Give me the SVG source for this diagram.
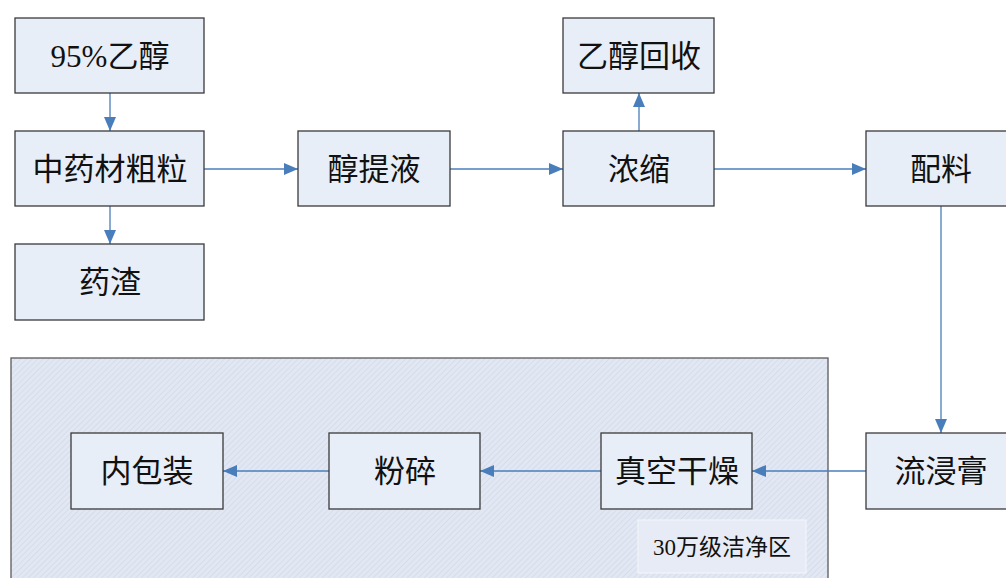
<svg xmlns="http://www.w3.org/2000/svg" width="1006" height="578" viewBox="0 0 1006 578">
<style>
.node rect{fill:#e8eef8;stroke:#3a3a3a;stroke-width:1.3}
.node text{font-family:"Liberation Serif","Noto Sans CJK SC",serif;font-size:31px;fill:#111;text-anchor:middle;dominant-baseline:central}
.conn line{stroke:#4a7ebb;stroke-width:1.3;marker-end:url(#ah)}
.zone-label{font-family:"Liberation Serif","Noto Sans CJK SC",serif;font-size:23px;fill:#111;text-anchor:middle;dominant-baseline:central}
</style>
<defs>
<marker id="ah" viewBox="0 0 14 12" refX="14" refY="6" markerWidth="14" markerHeight="12" markerUnits="userSpaceOnUse" orient="auto">
<path d="M0,0 L14,6 L0,12 Z" fill="#4a7ebb"/>
</marker>
<pattern id="hatch" width="4" height="4" patternUnits="userSpaceOnUse" patternTransform="rotate(45)">
<rect width="4" height="4" fill="#e2e8f3"/>
<line x1="0" y1="0" x2="0" y2="4" stroke="#d2d9e7" stroke-width="1.5"/>
</pattern>
</defs>
<rect width="1006" height="578" fill="#fff"/>
<g id="zone">
<rect x="11" y="358" width="817" height="230" fill="url(#hatch)" stroke="#5a5a5a" stroke-width="1.3"/>
<rect x="638" y="520" width="168" height="53" fill="#e6ebf5" stroke="#f4f6fa" stroke-width="1"/>
<text class="zone-label" x="722" y="547">30万级洁净区</text>
</g>
<g id="connectors" class="conn">
<line x1="110" y1="93" x2="110" y2="131"/>
<line x1="110" y1="206" x2="110" y2="244"/>
<line x1="204" y1="169" x2="298" y2="169"/>
<line x1="450" y1="169" x2="563" y2="169"/>
<line x1="639" y1="131" x2="639" y2="93"/>
<line x1="714" y1="169" x2="866" y2="169"/>
<line x1="941" y1="206" x2="941" y2="433"/>
<line x1="866" y1="471" x2="752" y2="471"/>
<line x1="601" y1="471" x2="480" y2="471"/>
<line x1="329" y1="471" x2="223" y2="471"/>
</g>
<g id="n1" class="node"><rect x="15" y="18" width="189" height="75"/><text x="110" y="56">95%乙醇</text></g>
<g id="n2" class="node"><rect x="15" y="131" width="189" height="75"/><text x="110" y="169">中药材粗粒</text></g>
<g id="n3" class="node"><rect x="15" y="244" width="189" height="76"/><text x="110" y="282">药渣</text></g>
<g id="n4" class="node"><rect x="298" y="131" width="152" height="75"/><text x="374" y="169">醇提液</text></g>
<g id="n5" class="node"><rect x="563" y="131" width="151" height="75"/><text x="639" y="169">浓缩</text></g>
<g id="n6" class="node"><rect x="563" y="18" width="151" height="75"/><text x="639" y="56">乙醇回收</text></g>
<g id="n7" class="node"><rect x="866" y="131" width="151" height="75"/><text x="941" y="169">配料</text></g>
<g id="n8" class="node"><rect x="866" y="433" width="151" height="76"/><text x="941" y="471">流浸膏</text></g>
<g id="n9" class="node"><rect x="601" y="433" width="151" height="76"/><text x="677" y="471">真空干燥</text></g>
<g id="n10" class="node"><rect x="329" y="433" width="151" height="76"/><text x="405" y="471">粉碎</text></g>
<g id="n11" class="node"><rect x="71" y="433" width="152" height="76"/><text x="147" y="471">内包装</text></g>
</svg>
